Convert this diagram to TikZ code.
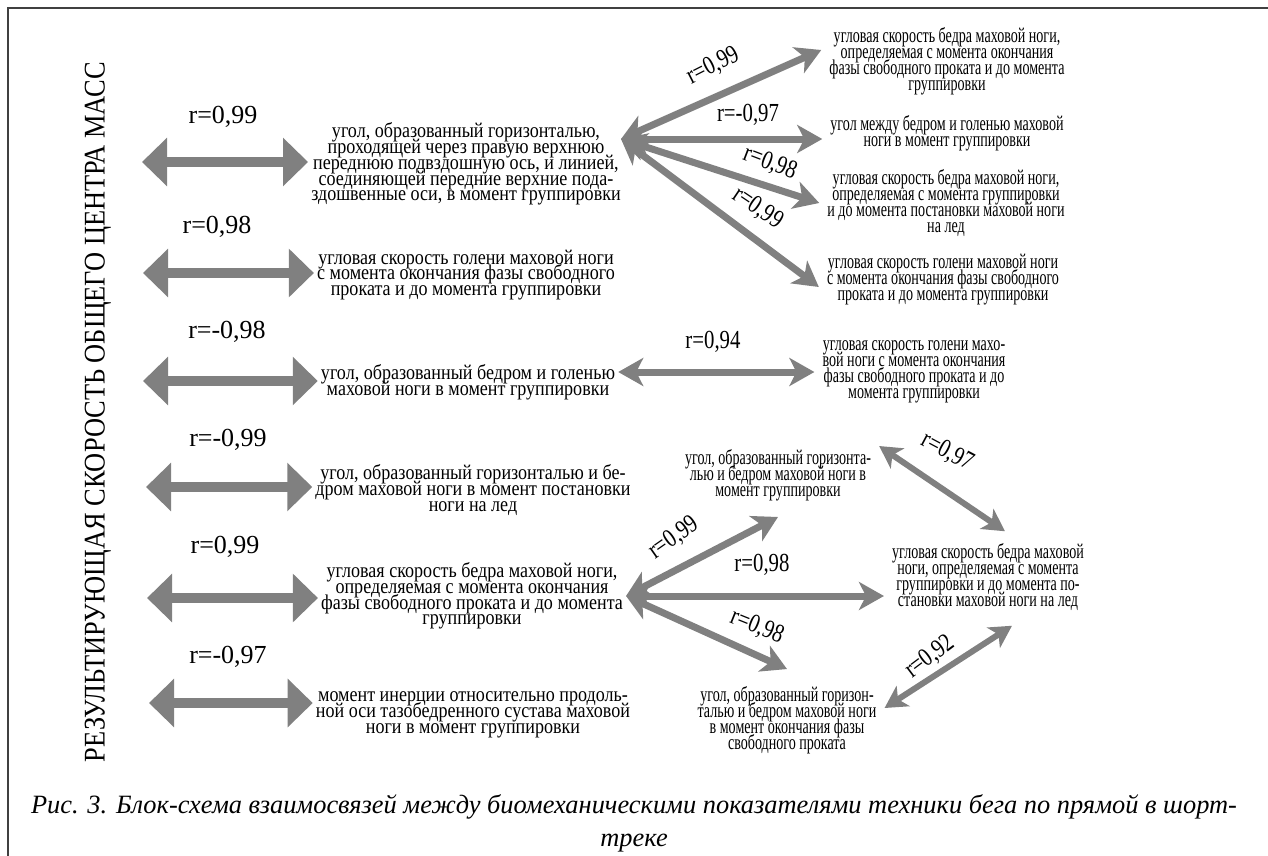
\documentclass[tikz,border=0pt]{standalone}
\usepackage{fontspec}
\setmainfont{Liberation Serif}
\newfontfamily\leftfont[FakeStretch=0.86]{Liberation Serif}
\newfontfamily\rightfont[FakeStretch=0.67]{Liberation Serif}
\newfontfamily\labfont[FakeStretch=0.8]{Liberation Serif}
\newfontfamily\titlefont[FakeStretch=0.88]{Liberation Serif}
\usetikzlibrary{arrows.meta}
\lineskiplimit=-30pt

\tikzset{
  desc/.style={font=\leftfont\fontsize{21}{15.8}\selectfont, align=center, inner sep=3pt},
  rdesc/.style={font=\rightfont\fontsize{21}{16}\selectfont, align=center, inner xsep=8pt, inner ysep=3pt},
  corr/.style={font=\fontsize{26}{28}\selectfont, inner sep=0pt},
  rcorr/.style={font=\labfont\fontsize{26}{28}\selectfont, inner sep=0pt},
  vtitle/.style={font=\titlefont\fontsize{30}{32}\selectfont, rotate=90},
  figcap/.style={font=\itshape\fontsize{26.4}{33}\selectfont, align=center},
  rim/.style={draw=black!75, line width=1.5pt},
  fat/.style={draw=gray, line width=10pt,
    {Triangle[width=47pt,length=25pt]}-{Triangle[width=47pt,length=25pt]}},
  link/.style={draw=gray, line width=7pt,
    {Stealth[width=28pt,length=25pt,inset=7pt]}-{Stealth[width=28pt,length=25pt,inset=7pt]}},
  blink/.style={draw=gray, line width=6pt,
    {Stealth[width=24pt,length=22pt,inset=6pt]}-{Stealth[width=24pt,length=22pt,inset=6pt]}}
}

\begin{document}
\begin{tikzpicture}[x=1pt,y=-1pt]
  \useasboundingbox (0,0) rectangle (1268,856);
  \draw[rim] (8,856) -- (8,8) -- (1268,8);

  \node[vtitle] (V) at (98,412) {РЕЗУЛЬТИРУЮЩАЯ СКОРОСТЬ ОБЩЕГО ЦЕНТРА МАСС};

  % left column
  \coordinate (L1) at (142,162);
  \coordinate (L2) at (143,273);
  \coordinate (L3) at (143,381);
  \coordinate (L4) at (146,487);
  \coordinate (L5) at (147,598);
  \coordinate (L6) at (149,703);

  \node[desc] (A1) at (466,164) {угол, образованный горизонталью,\\проходящей через правую верхнюю\\переднюю подвздошную ось, и линией,\\соединяющей передние верхние пода-\\здошвенные оси, в момент группировки};
  \node[desc] (A2) at (466,275) {угловая скорость голени маховой ноги\\с момента окончания фазы свободного\\проката и до момента группировки};
  \node[desc] (A3) at (468,382) {угол, образованный бедром и голенью\\маховой ноги в момент группировки};
  \node[desc] (A4) at (473,490) {угол, образованный горизонталью и бе-\\дром маховой ноги в момент постановки\\ноги на лед};
  \node[desc] (A5) at (472,596) {угловая скорость бедра маховой ноги,\\определяемая с момента окончания\\фазы свободного проката и до момента\\группировки};
  \node[desc] (A6) at (473,715) {момент инерции относительно продоль-\\ной оси тазобедренного сустава маховой\\ноги в момент группировки};

  \node[corr] (R1) at (223,117) {r=0,99};
  \node[corr] (R2) at (217,227) {r=0,98};
  \node[corr] (R3) at (227,332) {r=-0,98};
  \node[corr] (R4) at (228,440) {r=-0,99};
  \node[corr] (R5) at (225,547) {r=0,99};
  \node[corr] (R6) at (228,657) {r=-0,97};

  \path (L1) edge[fat] (A1.west |- L1)
        (L2) edge[fat] (A2.west |- L2)
        (L3) edge[fat] (A3.west |- L3)
        (L4) edge[fat] (A4.west |- L4)
        (L5) edge[fat] (A5.west |- L5)
        (L6) edge[fat] (A6.west |- L6);

  % upper fan
  \coordinate (P1) at (621,139);
  \node[rdesc] (T1) at (947,61) {угловая скорость бедра маховой ноги,\\определяемая с момента окончания\\фазы свободного проката и до момента\\группировки};
  \node[rdesc] (T2) at (947,133) {угол между бедром и голенью маховой\\ноги в момент группировки};
  \node[rdesc] (T3) at (946,203) {угловая скорость бедра маховой ноги,\\определяемая с момента группировки\\и до момента постановки маховой ноги\\на лед};
  \node[rdesc] (T4) at (943,280) {угловая скорость голени маховой ноги\\с момента окончания фазы свободного\\проката и до момента группировки};

  \path (P1) edge[link] ([yshift=11pt]T1.west)
        (P1) edge[link] (T2.west |- P1)
        (P1) edge[link] (T3.west)
        (P1) edge[link] ([yshift=-7pt]T4.west);

  \node[rcorr,rotate=27]  (U1) at (713,66)  {r=0,99};
  \node[rcorr]            (U2) at (748,115) {r=-0,97};
  \node[rcorr,rotate=-21] (U3) at (770,163) {r=0,98};
  \node[rcorr,rotate=-34] (U4) at (758,208) {r=0,99};

  % middle row
  \node[rdesc] (T5) at (914,372) {угловая скорость голени махо-\\вой ноги с момента окончания\\фазы свободного проката и до\\момента группировки};
  \path (A3.east |- T5) edge[link] (T5.west);
  \node[rcorr] (M) at (713,342) {r=0,94};

  % lower fan
  \node[rdesc] (B1) at (778,475) {угол, образованный горизонта-\\лью и бедром маховой ноги в\\момент группировки};
  \node[rdesc] (B2) at (787,720) {угол, образованный горизон-\\талью и бедром маховой ноги\\в момент окончания фазы\\свободного проката};
  \node[rdesc] (B3) at (988,577) {угловая скорость бедра маховой\\ноги, определяемая с момента\\группировки и до момента по-\\становки маховой ноги на лед};

  \path (A5.east) edge[link] ([yshift=-13pt]B1.south)
        (A5.east) edge[link] (B3.west |- A5.east)
        (A5.east) edge[link] ([yshift=14pt]B2.north)
        (B1.north east) edge[blink] ([shift={(17,-9)}]B3.north)
        ([yshift=12pt]B2.east) edge[blink] ([shift={(24,12)}]B3.south);

  \node[rcorr,rotate=35]  (W1) at (674,538) {r=0,99};
  \node[rcorr]            (W2) at (762,565) {r=0,98};
  \node[rcorr,rotate=-22] (W3) at (757,627) {r=0,98};
  \node[rcorr,rotate=-28] (W4) at (947,452) {r=0,97};
  \node[rcorr,rotate=37]  (W5) at (930,657) {r=0,92};

  \node[figcap] (C) at (634,823) {Рис. 3. Блок-схема взаимосвязей между биомеханическими показателями техники бега по прямой в шорт-\\треке};
\end{tikzpicture}
\end{document}
